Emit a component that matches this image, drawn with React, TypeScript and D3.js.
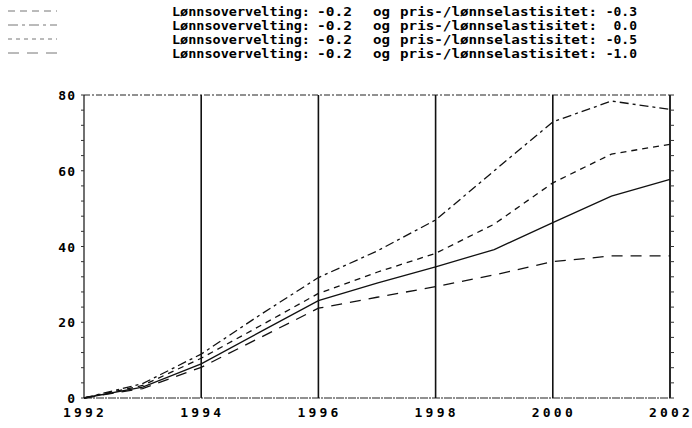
import React from "react";
import * as d3 from "d3";

const years = [1992, 1993, 1994, 1995, 1996, 1997, 1998, 1999, 2000, 2001, 2002];
const seriesNames = ["-0.3", "0.0", "-0.5", "-1.0"];
const elasticity03 = [0, 3.3, 10.5, 19.0, 27.6, 33.2, 38.2, 45.9, 56.8, 64.4, 67.0];
const elasticity00 = [0, 3.8, 11.6, 21.9, 31.8, 38.8, 47.0, 60.0, 72.9, 78.4, 76.2];
const elasticity05 = [0, 2.9, 9.0, 17.4, 25.7, 30.3, 34.6, 39.2, 46.3, 53.3, 57.7];
const elasticity10 = [0, 2.5, 8.1, 15.9, 23.7, 26.6, 29.4, 32.5, 36.0, 37.5, 37.5];
const yTickLabels = [0, 20, 40, 60, 80];
const xTickLabels = [1992, 1994, 1996, 1998, 2000, 2002];
const legendLead = "Lønnsovervelting:";
const legendMid = "-0.2";
const legendOg = "og";
const legendTail = "pris-/lønnselastisitet:";
const legendValues = ["-0.3", "0.0", "-0.5", "-1.0"];

const seriesValues = [elasticity03, elasticity00, elasticity05, elasticity10];
const dashes = ["6 5", "9 4 3 4", "none", "11 8"];

export default function App() {
  const W = 692, H = 428;
  const x = d3.scaleLinear().domain([1992, 2002]).range([84, 670]);
  const y = d3.scaleLinear().domain([0, 80]).range([398, 95]);
  const line = d3
    .line<number>()
    .x((_, i) => x(years[i]))
    .y((d) => y(d));
  const minor = d3.range(0, 81, 4);
  const font = "'DejaVu Sans Mono', monospace";
  const legendY = [16, 30, 44, 58];
  const legendDash = ["7 5", "10 4 3 4", "4 4", "11 8"];
  return (
    <svg
      width={W}
      height={H}
      style={{ position: "absolute", left: 0, top: 0, background: "#fff" }}
    >
      <rect width={W} height={H} fill="#fff" />
      {legendY.map((ly, i) => (
        <g key={i}>
          <line x1={8} x2={57} y1={ly - 5} y2={ly - 5} stroke="#777" strokeWidth={1} strokeDasharray={legendDash[i]} />
          <text x={172} y={ly} fontFamily={font} fontSize={13} fontWeight="bold" textLength={138} lengthAdjust="spacingAndGlyphs">{legendLead}</text>
          <text x={317} y={ly} fontFamily={font} fontSize={13} fontWeight="bold" textLength={35} lengthAdjust="spacingAndGlyphs">{legendMid}</text>
          <text x={373} y={ly} fontFamily={font} fontSize={13} fontWeight="bold" textLength={17} lengthAdjust="spacingAndGlyphs">{legendOg}</text>
          <text x={400} y={ly} fontFamily={font} fontSize={13} fontWeight="bold" textLength={197} lengthAdjust="spacingAndGlyphs">{legendTail}</text>
          <text x={637} y={ly} textAnchor="end" fontFamily={font} fontSize={13} fontWeight="bold">{legendValues[i]}</text>
        </g>
      ))}
      <line x1={x(1992)} x2={x(2002)} y1={y(80)} y2={y(80)} stroke="#222" strokeWidth={1} strokeDasharray="6 2 2 2" />
      <line x1={x(1992)} x2={x(2002)} y1={y(0)} y2={y(0)} stroke="#222" strokeWidth={1.2} strokeDasharray="8 1 2 1" />
      <line x1={x(1992)} x2={x(1992)} y1={y(0)} y2={y(80)} stroke="#111" strokeWidth={1.2} />
      {xTickLabels.slice(1).map((yr) => (
        <line key={yr} x1={x(yr)} x2={x(yr)} y1={y(0)} y2={y(80)} stroke="#111" strokeWidth={yr === 2002 ? 1.8 : 1.6} />
      ))}
      {minor.map((v) => (
        <g key={v}>
          <line x1={x(1992) - 3} x2={x(1992)} y1={y(v)} y2={y(v)} stroke="#333" strokeWidth={1} />
          <line x1={x(2002)} x2={x(2002) + 4} y1={y(v)} y2={y(v)} stroke="#333" strokeWidth={1} />
        </g>
      ))}
      {yTickLabels.map((v) => (
        <text key={v} x={76} y={y(v) + 5} textAnchor="end" fontFamily={font} fontSize={13} fontWeight="bold" letterSpacing={1}>
          {String(v)}
        </text>
      ))}
      {xTickLabels.map((yr) => (
        <text key={yr} x={x(yr) - 21} y={417} fontFamily={font} fontSize={13} fontWeight="bold" letterSpacing={3.2}>
          {String(yr)}
        </text>
      ))}
      {seriesValues.map((vals, i) => (
        <path
          key={seriesNames[i]}
          d={line(vals) || ""}
          fill="none"
          stroke="#111"
          strokeWidth={1.3}
          strokeDasharray={dashes[i]}
        />
      ))}
    </svg>
  );
}
